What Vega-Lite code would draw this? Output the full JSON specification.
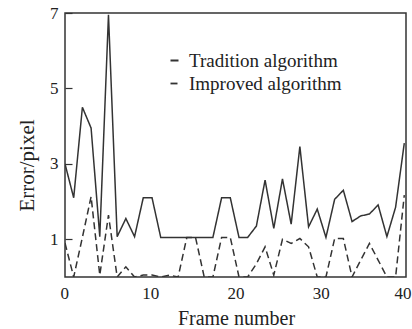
{
  "$schema": "https://vega.github.io/schema/vega-lite/v6.json",
  "autosize": "none",
  "width": 341,
  "height": 264,
  "padding": {"left": 65, "top": 13, "right": 6, "bottom": 52},
  "background": "white",
  "config": {
    "view": {"stroke": "#333", "strokeWidth": 1.5},
    "font": "Liberation Serif",
    "axis": {"labelFont": "Liberation Serif", "titleFont": "Liberation Serif", "labelColor": "#222", "titleColor": "#222", "titleFontWeight": "normal", "domain": false, "grid": false}
  },
  "data": {
    "values": [
      {"frame": 0, "series": "Tradition algorithm", "error": 3.0},
      {"frame": 1.02, "series": "Tradition algorithm", "error": 2.1},
      {"frame": 2.04, "series": "Tradition algorithm", "error": 4.5},
      {"frame": 3.06, "series": "Tradition algorithm", "error": 3.95},
      {"frame": 4.08, "series": "Tradition algorithm", "error": 1.07},
      {"frame": 5.1, "series": "Tradition algorithm", "error": 6.95},
      {"frame": 6.12, "series": "Tradition algorithm", "error": 1.07},
      {"frame": 7.14, "series": "Tradition algorithm", "error": 1.55},
      {"frame": 8.16, "series": "Tradition algorithm", "error": 1.07},
      {"frame": 9.18, "series": "Tradition algorithm", "error": 2.1},
      {"frame": 10.21, "series": "Tradition algorithm", "error": 2.1},
      {"frame": 11.23, "series": "Tradition algorithm", "error": 1.05},
      {"frame": 12.25, "series": "Tradition algorithm", "error": 1.05},
      {"frame": 13.27, "series": "Tradition algorithm", "error": 1.05},
      {"frame": 14.29, "series": "Tradition algorithm", "error": 1.05},
      {"frame": 15.31, "series": "Tradition algorithm", "error": 1.05},
      {"frame": 16.33, "series": "Tradition algorithm", "error": 1.05},
      {"frame": 17.35, "series": "Tradition algorithm", "error": 1.05},
      {"frame": 18.37, "series": "Tradition algorithm", "error": 2.1},
      {"frame": 19.39, "series": "Tradition algorithm", "error": 2.1},
      {"frame": 20.41, "series": "Tradition algorithm", "error": 1.05},
      {"frame": 21.43, "series": "Tradition algorithm", "error": 1.05},
      {"frame": 22.45, "series": "Tradition algorithm", "error": 1.35},
      {"frame": 23.47, "series": "Tradition algorithm", "error": 2.57},
      {"frame": 24.49, "series": "Tradition algorithm", "error": 1.29},
      {"frame": 25.51, "series": "Tradition algorithm", "error": 2.6},
      {"frame": 26.53, "series": "Tradition algorithm", "error": 1.4},
      {"frame": 27.55, "series": "Tradition algorithm", "error": 3.46},
      {"frame": 28.57, "series": "Tradition algorithm", "error": 1.33},
      {"frame": 29.59, "series": "Tradition algorithm", "error": 1.8},
      {"frame": 30.61, "series": "Tradition algorithm", "error": 1.05},
      {"frame": 31.63, "series": "Tradition algorithm", "error": 2.06},
      {"frame": 32.65, "series": "Tradition algorithm", "error": 2.3},
      {"frame": 33.67, "series": "Tradition algorithm", "error": 1.47},
      {"frame": 34.69, "series": "Tradition algorithm", "error": 1.62},
      {"frame": 35.71, "series": "Tradition algorithm", "error": 1.67},
      {"frame": 36.73, "series": "Tradition algorithm", "error": 1.91},
      {"frame": 37.76, "series": "Tradition algorithm", "error": 1.07},
      {"frame": 38.78, "series": "Tradition algorithm", "error": 1.85},
      {"frame": 39.8, "series": "Tradition algorithm", "error": 3.55},
      {"frame": 0, "series": "Improved algorithm", "error": 0.9},
      {"frame": 1.02, "series": "Improved algorithm", "error": 0},
      {"frame": 2.04, "series": "Improved algorithm", "error": 1.05},
      {"frame": 3.06, "series": "Improved algorithm", "error": 2.13},
      {"frame": 4.08, "series": "Improved algorithm", "error": 0.05},
      {"frame": 5.1, "series": "Improved algorithm", "error": 1.64},
      {"frame": 6.12, "series": "Improved algorithm", "error": 0},
      {"frame": 7.14, "series": "Improved algorithm", "error": 0.27},
      {"frame": 8.16, "series": "Improved algorithm", "error": 0},
      {"frame": 9.18, "series": "Improved algorithm", "error": 0.05},
      {"frame": 10.21, "series": "Improved algorithm", "error": 0.05},
      {"frame": 11.23, "series": "Improved algorithm", "error": 0},
      {"frame": 12.25, "series": "Improved algorithm", "error": 0.05},
      {"frame": 13.27, "series": "Improved algorithm", "error": 0},
      {"frame": 14.29, "series": "Improved algorithm", "error": 1.05},
      {"frame": 15.31, "series": "Improved algorithm", "error": 1.05},
      {"frame": 16.33, "series": "Improved algorithm", "error": 0},
      {"frame": 17.35, "series": "Improved algorithm", "error": 0},
      {"frame": 18.37, "series": "Improved algorithm", "error": 1.05},
      {"frame": 19.39, "series": "Improved algorithm", "error": 1.05},
      {"frame": 20.41, "series": "Improved algorithm", "error": 0},
      {"frame": 21.43, "series": "Improved algorithm", "error": 0},
      {"frame": 22.45, "series": "Improved algorithm", "error": 0.35},
      {"frame": 23.47, "series": "Improved algorithm", "error": 0.8},
      {"frame": 24.49, "series": "Improved algorithm", "error": 0.05},
      {"frame": 25.51, "series": "Improved algorithm", "error": 1.0},
      {"frame": 26.53, "series": "Improved algorithm", "error": 0.89},
      {"frame": 27.55, "series": "Improved algorithm", "error": 1.02},
      {"frame": 28.57, "series": "Improved algorithm", "error": 0.8},
      {"frame": 29.59, "series": "Improved algorithm", "error": 0},
      {"frame": 30.61, "series": "Improved algorithm", "error": 0},
      {"frame": 31.63, "series": "Improved algorithm", "error": 1.02},
      {"frame": 32.65, "series": "Improved algorithm", "error": 1.02},
      {"frame": 33.67, "series": "Improved algorithm", "error": 0},
      {"frame": 34.69, "series": "Improved algorithm", "error": 0.45},
      {"frame": 35.71, "series": "Improved algorithm", "error": 0.89},
      {"frame": 36.73, "series": "Improved algorithm", "error": 0.45},
      {"frame": 37.76, "series": "Improved algorithm", "error": 0},
      {"frame": 38.78, "series": "Improved algorithm", "error": 0},
      {"frame": 39.8, "series": "Improved algorithm", "error": 2.17}
    ]
  },
  "mark": {"type": "line", "color": "#333", "strokeWidth": 1.5, "clip": true},
  "encoding": {
    "x": {
      "field": "frame", "type": "quantitative",
      "scale": {"domain": [0, 40], "nice": false, "zero": false},
      "axis": {"values": [0, 10, 20, 30, 40], "ticks": false, "labelFontSize": 17, "labelPadding": 8, "labelFlush": true, "labelFlushOffset": 5,
               "title": "Frame number", "titleFontSize": 20, "titleBaseline": "middle", "titleY": 41, "titleX": 171}
    },
    "y": {
      "field": "error", "type": "quantitative",
      "scale": {"domain": [0, 7], "nice": false},
      "axis": {"values": [1, 3, 5, 7], "tickSize": -7, "tickColor": "#333", "tickWidth": 1.2, "labelFontSize": 17, "labelPadding": 14,
               "title": "Error/pixel", "titleFontSize": 21, "titleBaseline": "middle", "titleX": -38, "titleY": 152}
    },
    "strokeDash": {
      "field": "series", "type": "nominal",
      "scale": {"domain": ["Tradition algorithm", "Improved algorithm"], "range": [[1, 0], [7, 4]]},
      "legend": {"orient": "none", "legendX": 100, "legendY": 38, "title": null, "symbolType": "stroke", "symbolSize": 64,
                 "symbolStrokeColor": "#333", "symbolStrokeWidth": 1.8, "labelFontSize": 19, "labelFont": "Liberation Serif",
                 "labelColor": "#222", "labelOffset": 5, "rowPadding": 3}
    }
  }
}
